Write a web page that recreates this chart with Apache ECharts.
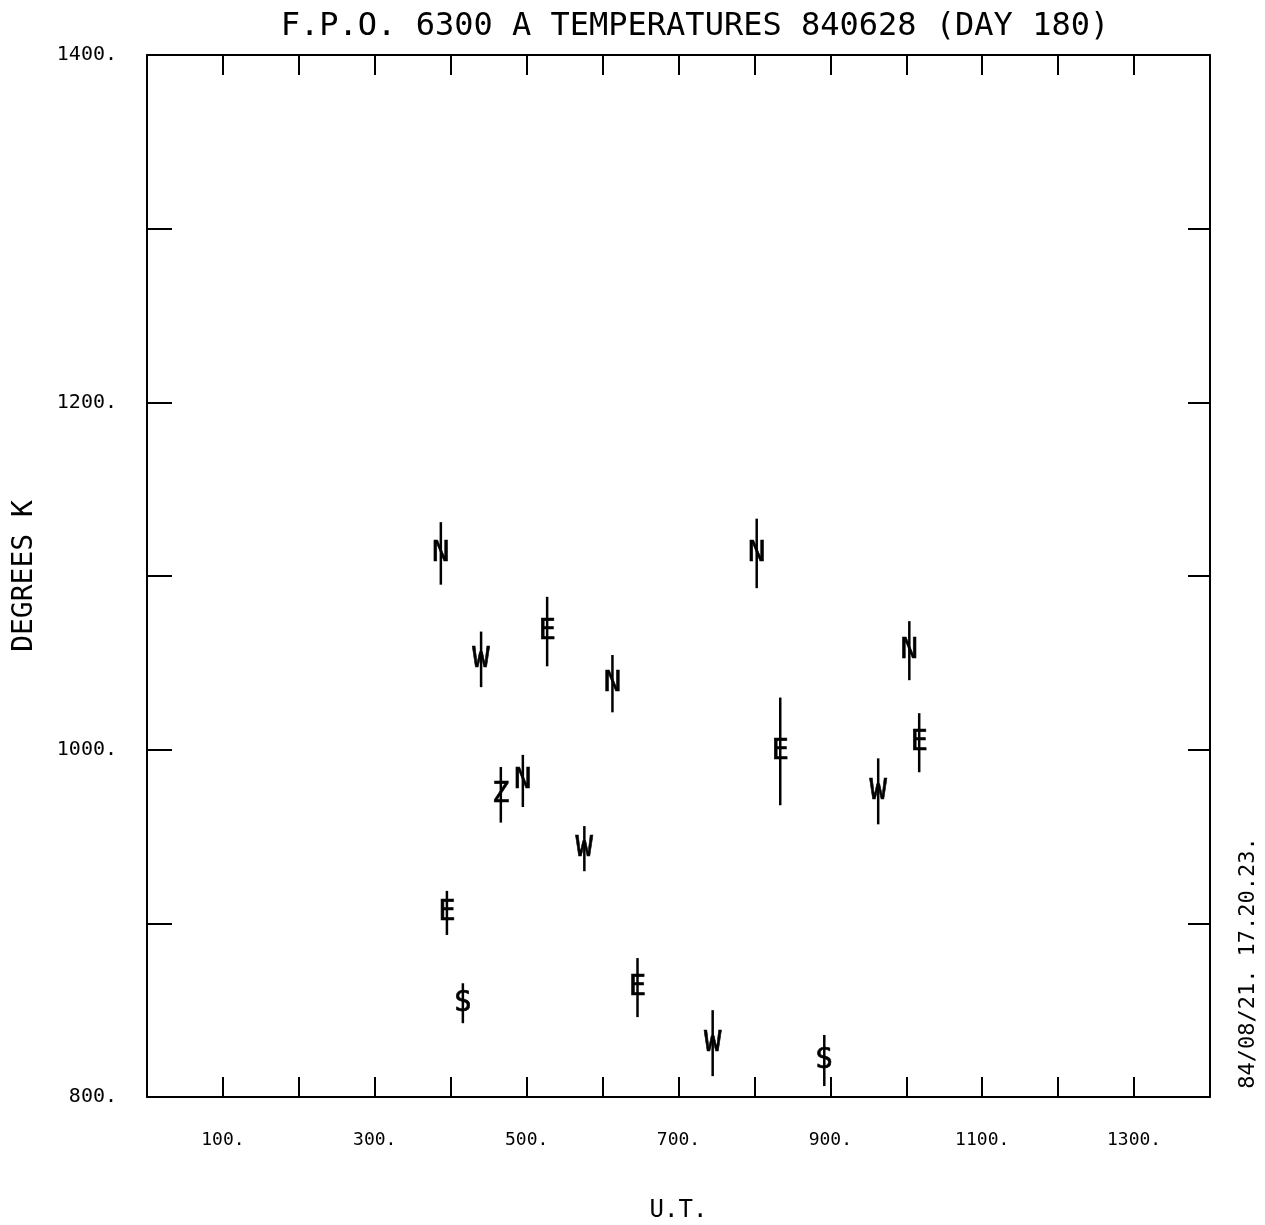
<!DOCTYPE html>
<html>
<head>
<meta charset="utf-8">
<script src="https://cdn.jsdelivr.net/npm/echarts@6/dist/echarts.min.js"></script>
<style>
  html, body { margin: 0; padding: 0; background: #fff; }
  #chart { width: 1265px; height: 1225px; }
</style>
</head>
<body>
<div id="chart"></div>
<script>
'use strict';

// [U.T., temperature K, error]
var north = [[387, 1113, 18], [613, 1038, 16.5], [495, 982, 15], [803, 1113, 20], [1004, 1057, 17]];
var east = [[527, 1068, 20], [395, 906, 12.7], [646, 863, 17], [834, 999, 31], [1017, 1004, 17]];
var west = [[440, 1052, 16], [576, 943, 13], [745, 831, 19], [963, 976, 19]];
var zenith = [[466, 974, 16]];
var south = [[416, 854, 11.5], [892, 821, 14.7]];

var xTickLabels = [100, 300, 500, 700, 900, 1100, 1300];
var yTickLabels = [800, 1000, 1200, 1400];

var MONO = '"DejaVu Sans Mono", "Liberation Mono", monospace';

function makeSeries(name, letter, pts) {
  return {
    type: 'custom',
    name: name,
    data: pts,
    encode: { x: 0, y: 1 },
    renderItem: function(params, api) {
      var x = api.value(0), y = api.value(1), e = api.value(2);
      var top = api.coord([x, y + e]);
      var bot = api.coord([x, y - e]);
      var c = api.coord([x, y]);
      return {
        type: 'group',
        children: [
          {
            type: 'line',
            shape: { x1: top[0], y1: top[1], x2: bot[0], y2: bot[1] },
            style: { stroke: '#000', lineWidth: 2.5 }
          },
          {
            type: 'text',
            x: c[0], y: c[1],
            style: {
              text: letter, fill: '#000', stroke: '#000', lineWidth: 0.6,
              font: '29px ' + MONO, align: 'center', verticalAlign: 'middle'
            }
          }
        ]
      };
    }
  };
}

var lineStyle = { color: '#000', width: 2 };

var chart = echarts.init(document.getElementById('chart'));
chart.setOption({
  backgroundColor: '#fff',
  animation: false,
  title: {
    text: 'F.P.O. 6300 A TEMPERATURES 840628 (DAY 180)',
    left: 690, top: 6, textAlign: 'center',
    textStyle: { fontFamily: MONO, fontSize: 32, fontWeight: 'normal', color: '#000' }
  },
  grid: { left: 147, right: 55, top: 55, bottom: 128, outerBoundsMode: 'none' },
  xAxis: [{
    type: 'value', min: 0, max: 1400, interval: 100,
    name: 'U.T.', nameLocation: 'middle', nameGap: 102,
    nameTextStyle: { fontFamily: MONO, fontSize: 24, color: '#000' },
    axisLine: { onZero: false, lineStyle: lineStyle },
    axisTick: { inside: true, length: 20, lineStyle: lineStyle },
    axisLabel: {
      margin: 34, fontFamily: MONO, fontSize: 18, color: '#000',
      formatter: function(v) { return xTickLabels.indexOf(v) >= 0 ? v + '.' : ''; }
    },
    splitLine: { show: false }
  }, {
    type: 'value', min: 0, max: 1400, interval: 100, position: 'top',
    axisLine: { onZero: false, lineStyle: lineStyle },
    axisTick: { inside: true, length: 20, lineStyle: lineStyle },
    axisLabel: { show: false },
    splitLine: { show: false }
  }],
  yAxis: [{
    type: 'value', min: 800, max: 1400, interval: 100, position: 'left',
    name: 'DEGREES K', nameLocation: 'middle', nameGap: 108, nameRotate: 90,
    nameTextStyle: { fontFamily: MONO, fontSize: 28, color: '#000' },
    axisLine: { onZero: false, lineStyle: lineStyle },
    axisTick: { inside: true, length: 25, lineStyle: lineStyle },
    axisLabel: {
      margin: 30, fontFamily: MONO, fontSize: 20, color: '#000',
      formatter: function(v) { return yTickLabels.indexOf(v) >= 0 ? v + '.' : ''; }
    },
    splitLine: { show: false }
  }, {
    type: 'value', min: 800, max: 1400, interval: 100, position: 'right',
    axisLine: { onZero: false, lineStyle: lineStyle },
    axisTick: { inside: true, length: 22, lineStyle: lineStyle },
    axisLabel: { show: false },
    splitLine: { show: false }
  }],
  graphic: [{
    type: 'text',
    x: 1248, y: 963, rotation: Math.PI / 2,
    style: {
      text: '84/08/21. 17.20.23.', fill: '#000',
      font: '22px ' + MONO, align: 'center', verticalAlign: 'middle'
    }
  }],
  series: [
    makeSeries('N', 'N', north),
    makeSeries('E', 'E', east),
    makeSeries('W', 'W', west),
    makeSeries('Z', 'Z', zenith),
    makeSeries('S', 'S', south)
  ]
});
</script>
</body>
</html>
